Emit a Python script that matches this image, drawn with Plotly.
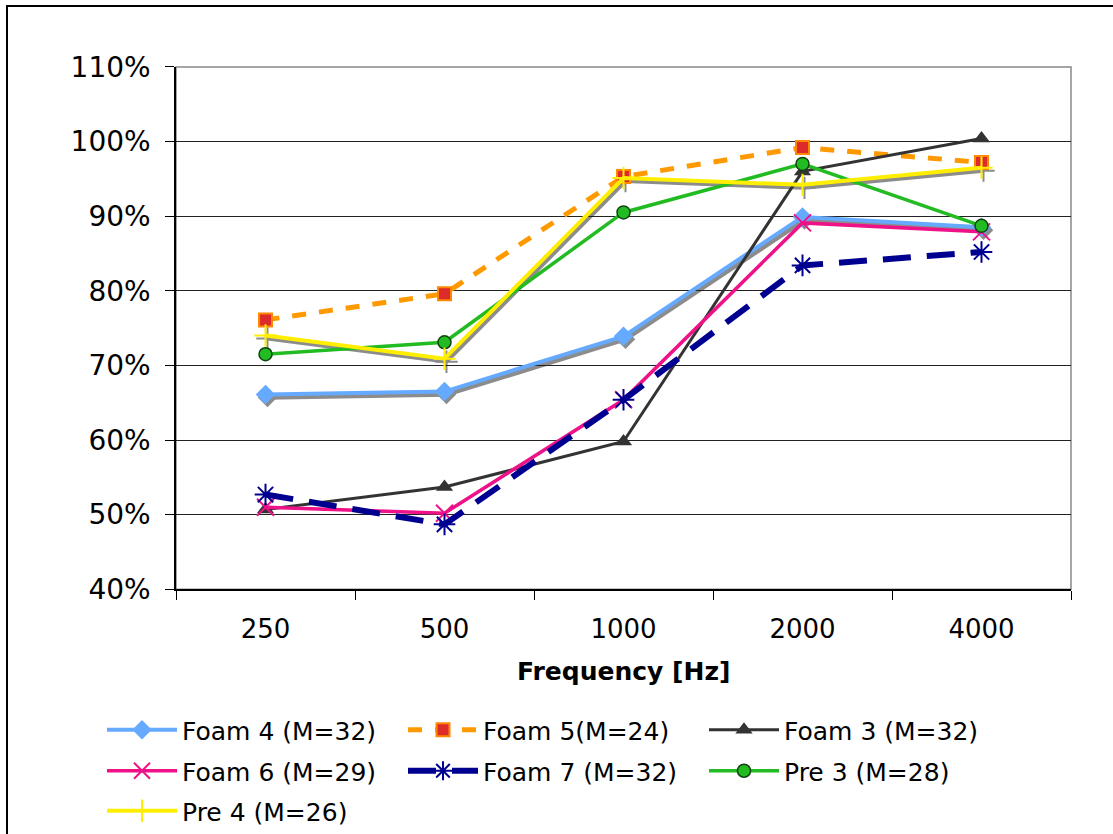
import plotly.graph_objects as go

W, H = 1113, 834

freq = ["250", "500", "1000", "2000", "4000"]
foam4 = [0.661, 0.665, 0.739, 0.899, 0.885]
foam5 = [0.761, 0.796, 0.953, 0.992, 0.972]
foam3 = [0.507, 0.537, 0.598, 0.960, 1.004]
foam6 = [0.510, 0.502, 0.654, 0.891, 0.879]
foam7 = [0.527, 0.487, 0.654, 0.834, 0.852]
pre3 = [0.715, 0.731, 0.905, 0.970, 0.887]
pre4 = [0.740, 0.709, 0.951, 0.942, 0.965]

names = ["Foam 4 (M=32)", "Foam 5(M=24)", "Foam 3 (M=32)",
         "Foam 6 (M=29)", "Foam 7 (M=32)", "Pre 3 (M=28)", "Pre 4 (M=26)"]
y_ticks = [0.4, 0.5, 0.6, 0.7, 0.8, 0.9, 1.0, 1.1]

# plot area in pixels
L, R, T, B = 176, 1071, 67, 590
xd = [L / W, R / W]
yd = [1 - B / H, 1 - T / H]
# shadow offset
sdx, sdy = 2, 3
xs = [(L + sdx) / W, (R + sdx) / W]
ys_ = [1 - (B + sdy) / H, 1 - (T + sdy) / H]

fig = go.Figure()

shadow_col = "#8c8c8c"
# shadows on a hidden, slightly offset subplot (x/y) drawn first
fig.add_trace(go.Scatter(x=freq, y=foam4, xaxis="x", yaxis="y", mode="lines+markers",
                         line=dict(color=shadow_col, width=4.5),
                         marker=dict(symbol="diamond", size=15, color=shadow_col),
                         showlegend=False, hoverinfo="skip"))
fig.add_trace(go.Scatter(x=freq, y=pre4, xaxis="x", yaxis="y", mode="lines+markers",
                         line=dict(color=shadow_col, width=4),
                         marker=dict(symbol="cross-thin-open", size=16,
                                     line=dict(color=shadow_col, width=2)),
                         showlegend=False, hoverinfo="skip"))

main = dict(xaxis="x2", yaxis="y2", mode="lines+markers")
fig.add_trace(go.Scatter(x=freq, y=foam4, name=names[0], legend="legend", **main,
                         line=dict(color="#66aaff", width=4),
                         marker=dict(symbol="diamond", size=15, color="#66aaff")))
fig.add_trace(go.Scatter(x=freq, y=foam5, name=names[1], legend="legend", **main,
                         line=dict(color="#ff9900", width=5, dash="14px,13px"),
                         marker=dict(symbol="square", size=13, color="#dd2a2a",
                                     line=dict(color="#ff8800", width=2))))
fig.add_trace(go.Scatter(x=freq, y=foam3, name=names[2], legend="legend", **main,
                         line=dict(color="#333333", width=3),
                         marker=dict(symbol="triangle-up", size=15, color="#333333")))
fig.add_trace(go.Scatter(x=freq, y=foam6, name=names[3], legend="legend2", **main,
                         line=dict(color="#ee1188", width=3.5),
                         marker=dict(symbol="x-thin-open", size=17,
                                     line=dict(color="#ee1188", width=2))))
fig.add_trace(go.Scatter(x=freq, y=foam7, name=names[4], legend="legend2", **main,
                         line=dict(color="#000090", width=6, dash="28px,16px"),
                         marker=dict(symbol="asterisk-open", size=18,
                                     line=dict(color="#000090", width=2))))
fig.add_trace(go.Scatter(x=freq, y=pre3, name=names[5], legend="legend2", **main,
                         line=dict(color="#22bb22", width=3.5),
                         marker=dict(symbol="circle", size=13, color="#22bb22",
                                     line=dict(color="#114411", width=1.5))))
fig.add_trace(go.Scatter(x=freq, y=pre4, name=names[6], legend="legend3", **main,
                         line=dict(color="#ffee00", width=4),
                         marker=dict(symbol="cross-thin-open", size=16,
                                     line=dict(color="#003300", width=2))))

leg_common = dict(orientation="h", x=102 / W, xanchor="left", yanchor="middle",
                  font=dict(size=25, family="DejaVu Sans"), itemwidth=70,
                  entrywidth=216, entrywidthmode="pixels", bgcolor="rgba(0,0,0,0)")

fig.update_layout(
    width=W, height=H,
    margin=dict(l=0, r=0, t=0, b=0),
    paper_bgcolor="white", plot_bgcolor="rgba(0,0,0,0)",
    font=dict(family="DejaVu Sans", color="black"),
    xaxis=dict(domain=xs, type="category", range=[-0.5, 4.5], visible=False,
               anchor="y", fixedrange=True),
    yaxis=dict(domain=ys_, range=[0.4, 1.1], visible=False, anchor="x", fixedrange=True),
    xaxis2=dict(domain=xd, type="category", range=[-0.5, 4.5], showgrid=False,
                anchor="y2",
                showline=True, linecolor="black", linewidth=1.5,
                ticks="outside", tickson="boundaries", ticklen=9, tickcolor="black",
                tickfont=dict(size=26), automargin=False, ticklabelstandoff=16),
    yaxis2=dict(domain=yd, range=[0.4, 1.1], tickvals=y_ticks, tickformat=".0%",
                anchor="x2", side="left",
                showgrid=True, gridcolor="#222222", gridwidth=1,
                showline=True, linecolor="black", linewidth=1.5,
                ticks="outside", ticklen=9, tickcolor="black",
                tickfont=dict(size=28), automargin=False, zeroline=False,
                ticklabelstandoff=9),
    legend=dict(y=1 - 730 / H, **leg_common),
    legend2=dict(y=1 - 771 / H, **leg_common),
    legend3=dict(y=1 - 812 / H, **leg_common),
    showlegend=True,
    annotations=[dict(text="<b>Frequency [Hz]</b>", x=(L + R) / 2 / W, y=1 - 672 / H,
                      xref="paper", yref="paper", showarrow=False,
                      font=dict(size=25), xanchor="center", yanchor="middle")],
    shapes=[
        dict(type="rect", xref="paper", yref="paper", x0=xd[0], x1=xd[1], y0=yd[0], y1=yd[1],
             line=dict(color="#888888", width=1.5), layer="below"),
        dict(type="rect", xref="paper", yref="paper", x0=7 / W, x1=1.02, y0=-0.02, y1=1 - 6 / H,
             line=dict(color="black", width=2)),
    ],
)

fig.write_html("out.html")
